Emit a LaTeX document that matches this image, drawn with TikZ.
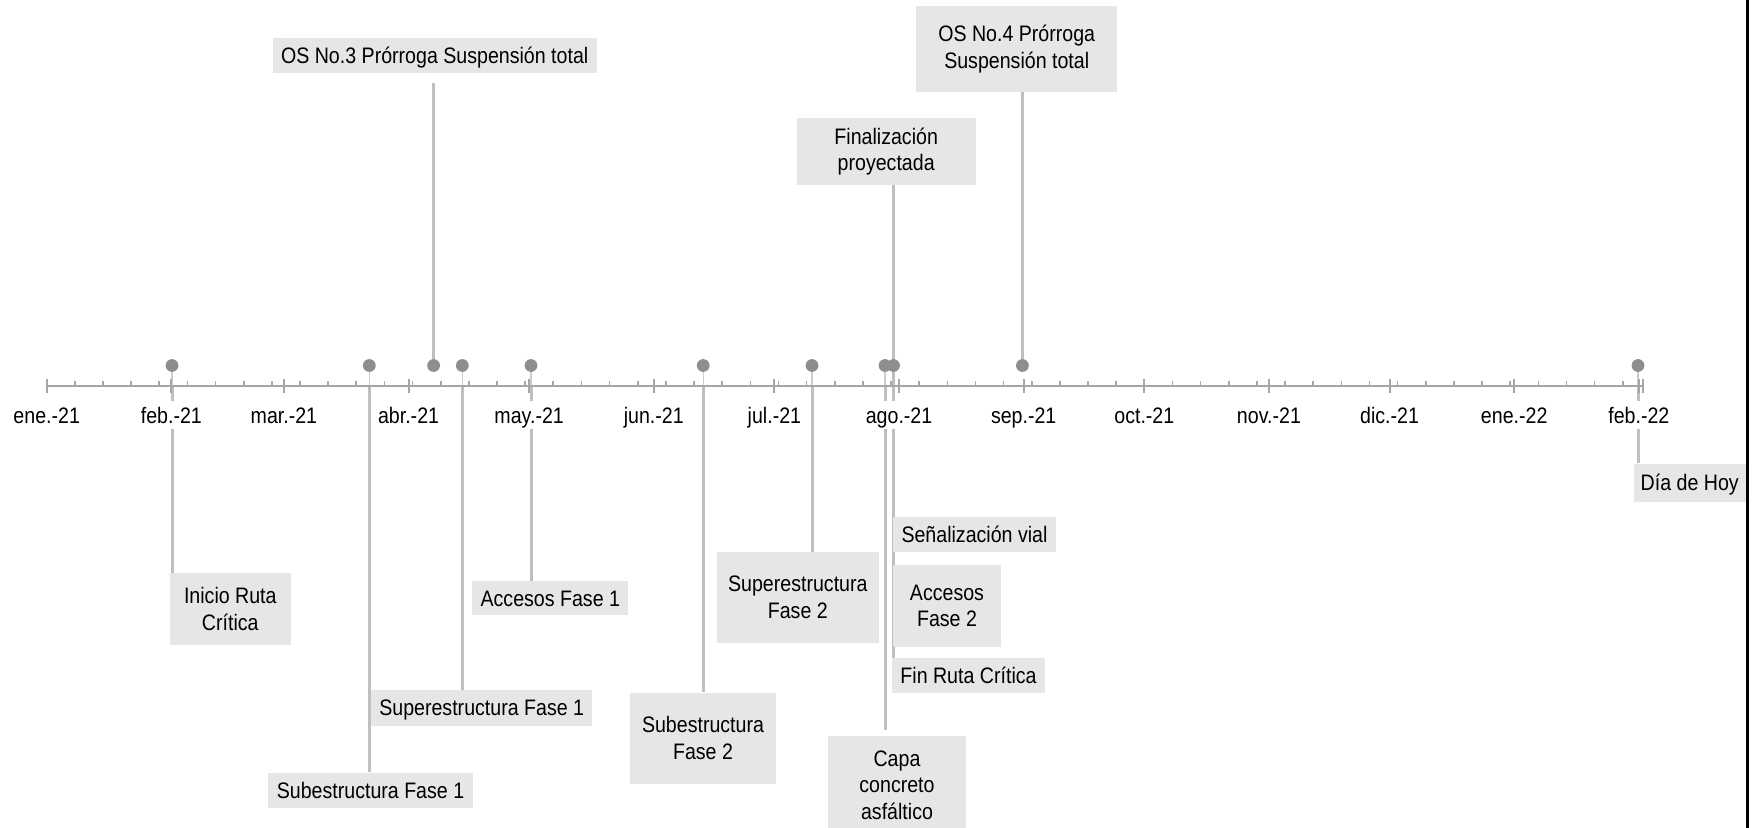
\documentclass[tikz,border=0pt]{standalone}
\usepackage{fontspec}
\setmainfont[FakeStretch=0.875]{Liberation Sans}
\pgfdeclarelayer{background}
\pgfsetlayers{background,main}
\definecolor{boxgray}{HTML}{E7E6E6}
\definecolor{stemgray}{HTML}{BFBFBF}
\definecolor{dotgray}{HTML}{8E8E8E}
\definecolor{axisgray}{HTML}{A6A6A6}
\newcommand{\lbl}{\fontsize{11.2}{13.3}\selectfont}
\tikzset{
  box/.style={fill=boxgray, inner sep=0pt, align=center, font=\lbl, text=black},
  boxone/.style={box, text height=8pt, text depth=0pt},
  stem/.style={draw=stemgray, line width=1.5pt},
  conn/.style={draw=stemgray!80, line width=0.6pt},
  evdot/.style={circle, fill=dotgray, inner sep=0pt, minimum size=6.4pt},
  month/.style={fill=white, inner xsep=1pt, inner ysep=3pt, font=\lbl, text=black, text height=8pt, text depth=0pt},
  axisline/.style={draw=axisgray, line width=1pt},
  majortick/.style={draw=axisgray, line width=1pt},
  minortick/.style={draw=axisgray, line width=0.8pt},
}
\begin{document}
\begin{tikzpicture}[x=0.5pt, y=-0.5pt]
\useasboundingbox (0,0) rectangle (1764,828);

% axis
\coordinate (axis) at (0,386);
\coordinate (axstart) at (46.7,386);
\coordinate (axend) at (1642.7,386);
\draw[axisline] (axstart) -- (axend);
\foreach \k in {1,...,56} {
  \draw[minortick] ({46.7+4.0205*7*\k},386) -- ++(0,-5);
}
\foreach \d in {0,31,59,90,120,151,181,212,243,273,304,334,365,396} {
  \draw[majortick] ({46.7+4.0205*\d},379) -- ++(0,14);
}
\draw[majortick] (axend) ++(0,-7) -- ++(0,14);

% event dots
\node[evdot] (d1) at (172,365.5) {};
\node[evdot] (d2) at (369.3,365.5) {};
\node[evdot] (d3) at (433.6,365.5) {};
\node[evdot] (d4) at (462.3,365.5) {};
\node[evdot] (d5) at (531,365.5) {};
\node[evdot] (d6) at (703.2,365.5) {};
\node[evdot] (d7) at (812,365.5) {};
\node[evdot] (d8) at (885,365.5) {};
\node[evdot] (d9) at (893.5,365.5) {};
\node[evdot] (d10) at (1022.4,365.5) {};
\node[evdot] (d11) at (1638,365.5) {};

% boxes
\node[boxone, minimum width=162pt, minimum height=17.5pt] (os3) at (434.7,55.8) {OS No.3 Prórroga Suspensión total};
\node[box, minimum width=100.7pt, minimum height=42.8pt] (os4) at (1016.7,48.8) {OS No.4 Prórroga\\Suspensión total};
\node[box, minimum width=89.5pt, minimum height=33.3pt] (fin) at (886.2,151.7) {Finalización\\proyectada};
\node[box, minimum width=60.3pt, minimum height=35.7pt] (inicio) at (230.3,609) {Inicio Ruta\\Crítica};
\node[boxone, minimum width=78pt, minimum height=17.2pt] (accf1) at (550.3,598.2) {Accesos Fase 1};
\node[boxone, minimum width=110.7pt, minimum height=17.8pt] (supf1) at (481.7,707.8) {Superestructura Fase 1};
\node[boxone, minimum width=102.2pt, minimum height=17.5pt] (subf1) at (370.5,790.2) {Subestructura Fase 1};
\node[box, minimum width=73pt, minimum height=45.5pt] (subf2) at (703,738) {Subestructura\\Fase 2};
\node[box, minimum width=81.2pt, minimum height=45.3pt] (supf2) at (797.8,597.3) {Superestructura\\Fase 2};
\node[boxone, minimum width=81.5pt, minimum height=17.5pt] (senal) at (974.5,534.5) {Señalización vial};
\node[box, minimum width=54pt, minimum height=41pt] (accf2) at (947,606) {Accesos\\Fase 2};
\node[boxone, minimum width=76.5pt, minimum height=17.5pt] (finrc) at (968.5,675.5) {Fin Ruta Crítica};
\node[box, minimum width=69pt, minimum height=49pt] (capa) at (897,785) {Capa\\concreto\\asfáltico};
\node[boxone, minimum width=56.2pt, minimum height=19.2pt] (hoy) at (1689.7,482.7) {Día de Hoy};

% stems (behind)
\begin{pgfonlayer}{background}
  \foreach \n in {d1,d2,d4,d5,d6,d7,d8,d9,d11} {
    \draw[conn] (\n.center) -- (\n |- axis);
  }
  \draw[stem] (d1 |- axis) -- (d1 |- inicio.north);
  \draw[stem] (d2 |- axis) -- (d2 |- subf1.north);
  \draw[stem, shorten <=4.5pt] (os3.south -| d3) -- (d3.center);
  \draw[stem] (d4 |- axis) -- (d4 |- supf1.north);
  \draw[stem] (d5 |- axis) -- (d5 |- accf1.north);
  \draw[stem] (d6 |- axis) -- (d6 |- subf2.north);
  \draw[stem] (d7 |- axis) -- (d7 |- supf2.north);
  \draw[stem, shorten >=3pt] (d8 |- axis) -- (d8 |- capa.north);
  \draw[stem, shorten >=1.5pt] (fin.south -| d9) -- (d9 |- finrc.south);
  \draw[stem] (os4.south -| d10) -- (d10.center);
  \draw[stem] (d11 |- axis) -- (d11 |- hoy.north);
\end{pgfonlayer}

% month labels
\foreach \d/\t [count=\i] in {0/ene.-21,31/feb.-21,59/mar.-21,90/abr.-21,120/may.-21,151/jun.-21,181/jul.-21,212/ago.-21,243/sep.-21,273/oct.-21,304/nov.-21,334/dic.-21,365/ene.-22,396/feb.-22} {
  \node[month] (m\i) at ({46.7+4.0205*\d},415) {\t};
}

% right border
\coordinate (bt) at (1747.7,0);
\coordinate (bb) at (1747.7,828);
\draw[black, line width=1.25pt] (bt) -- (bb);
\end{tikzpicture}
\end{document}
